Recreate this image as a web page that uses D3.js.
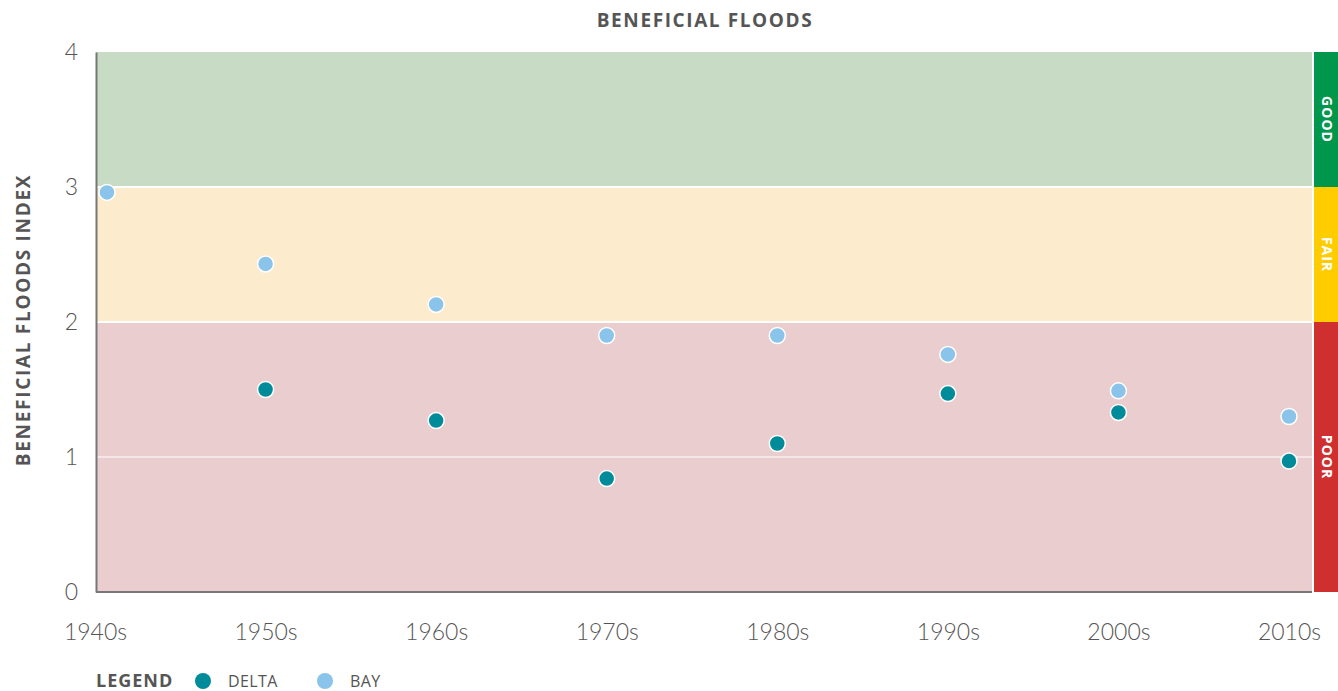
<html>
<head>
<script src="https://d3js.org/d3.v7.min.js"></script>
<style>
  body { margin: 0; background: #fff; }
  text { font-family: Lato, "Open Sans", sans-serif; }
</style>
</head>
<body>
<svg width="1338" height="691"></svg>
<script>
// data
var decades = ["1940s", "1950s", "1960s", "1970s", "1980s", "1990s", "2000s", "2010s"];
var delta = [null, 1.50, 1.27, 0.84, 1.10, 1.47, 1.33, 0.97];
var bay = [2.96, 2.43, 2.13, 1.90, 1.90, 1.76, 1.49, 1.30];
var yTicks = [0, 1, 2, 3, 4];
var bands = [
  {name: "POOR", from: 0, to: 2, fill: "#eacdce", tag: "#d02f2f"},
  {name: "FAIR", from: 2, to: 3, fill: "#fcebcc", tag: "#ffcc00"},
  {name: "GOOD", from: 3, to: 4, fill: "#c8dbc5", tag: "#00964b"}
];

var svg = d3.select("svg");
var x0 = 96, x1 = 1312, y0 = 52, y1 = 592;

var x = d3.scalePoint().domain(decades).range([95, 1289]);
var y = d3.scaleLinear().domain([0, 4]).range([y1, y0]);
var r = 8;

// background bands
svg.append("g").selectAll("rect")
  .data(bands).enter().append("rect")
  .attr("x", x0)
  .attr("y", function(d) { return y(d.to); })
  .attr("width", x1 - x0)
  .attr("height", function(d) { return y(d.from) - y(d.to); })
  .attr("fill", function(d) { return d.fill; });

// status column
var tags = svg.append("g").selectAll("g")
  .data(bands).enter().append("g");
tags.append("rect")
  .attr("x", x1 + 2)
  .attr("y", function(d) { return y(d.to); })
  .attr("width", 1338 - x1 - 2)
  .attr("height", function(d) { return y(d.from) - y(d.to); })
  .attr("fill", function(d) { return d.tag; });
tags.append("text")
  .attr("transform", function(d) {
    var cy = d.name == "POOR" ? y(1) : (y(d.from) + y(d.to)) / 2;
    return "translate(" + (x1 + 15) + "," + cy + ") rotate(90)";
  })
  .attr("text-anchor", "middle")
  .attr("dy", "0.35em")
  .attr("fill", "#fff")
  .style("font-family", "'Open Sans', sans-serif")
  .style("font-weight", "700")
  .style("font-size", "14px")
  .style("letter-spacing", "1px")
  .text(function(d) { return d.name; });

// white lines between bands and at 1
svg.append("g").selectAll("line")
  .data([1, 2, 3]).enter().append("line")
  .attr("x1", x0).attr("x2", x1)
  .attr("y1", function(d) { return y(d); })
  .attr("y2", function(d) { return y(d); })
  .attr("stroke", "#fff")
  .attr("stroke-width", function(d) { return d == 1 ? 1 : 2; });
svg.append("line")
  .attr("x1", x1 + 1).attr("x2", x1 + 1)
  .attr("y1", y0).attr("y2", y1)
  .attr("stroke", "#fff").attr("stroke-width", 2);

// axes
var yAxis = svg.append("g")
  .attr("transform", "translate(" + x0 + ",0)")
  .call(d3.axisLeft(y).tickValues(yTicks).tickSize(0).tickPadding(18).tickFormat(d3.format("d")));
yAxis.select(".domain").attr("stroke", "#777").attr("stroke-width", 2);

var xAxis = svg.append("g")
  .attr("transform", "translate(0," + y1 + ")")
  .call(d3.axisBottom(x).tickSize(0).tickPadding(32));
xAxis.select(".domain").attr("d", "M" + x0 + ",0H" + x1).attr("stroke", "#777").attr("stroke-width", 2);

svg.selectAll(".tick text")
  .attr("fill", "#555")
  .style("font-family", "Lato, sans-serif")
  .style("font-weight", "300")
  .style("font-size", "23px");

// points
function px(i) { return Math.max(x(decades[i]), x0 + r + 3); }

svg.append("g").selectAll("circle")
  .data(bay).enter().append("circle")
  .attr("cx", function(d, i) { return px(i); })
  .attr("cy", function(d) { return y(d); })
  .attr("r", r)
  .attr("fill", "#8bc4ea")
  .attr("stroke", "#fff").attr("stroke-width", 1.5);

svg.append("g").selectAll("circle")
  .data(delta.map(function(d, i) { return {v: d, i: i}; }).filter(function(d) { return d.v != null; }))
  .enter().append("circle")
  .attr("cx", function(d) { return px(d.i); })
  .attr("cy", function(d) { return y(d.v); })
  .attr("r", r)
  .attr("fill", "#008b9a")
  .attr("stroke", "#fff").attr("stroke-width", 1.5);

// title and axis label
svg.append("text")
  .attr("x", 705).attr("y", 27)
  .attr("text-anchor", "middle")
  .attr("fill", "#555")
  .style("font-family", "'Open Sans', sans-serif")
  .style("font-weight", "700")
  .style("font-size", "19px")
  .style("letter-spacing", "1.6px")
  .text("BENEFICIAL FLOODS");

svg.append("text")
  .attr("transform", "translate(30," + 320 + ") rotate(-90)")
  .attr("text-anchor", "middle")
  .attr("fill", "#555")
  .style("font-family", "'Open Sans', sans-serif")
  .style("font-weight", "700")
  .style("font-size", "19px")
  .style("letter-spacing", "1.7px")
  .text("BENEFICIAL FLOODS INDEX");

// legend
var legend = svg.append("g");
legend.append("text")
  .attr("x", 96).attr("y", 687)
  .attr("fill", "#555")
  .style("font-family", "'Open Sans', sans-serif")
  .style("font-weight", "700")
  .style("font-size", "18px")
  .style("letter-spacing", "1px")
  .text("LEGEND");
var items = [{name: "DELTA", color: "#008b9a", cx: 203}, {name: "BAY", color: "#8bc4ea", cx: 325}];
legend.selectAll("circle").data(items).enter().append("circle")
  .attr("cx", function(d) { return d.cx; })
  .attr("cy", 681)
  .attr("r", 8)
  .attr("fill", function(d) { return d.color; });
legend.selectAll(".lab").data(items).enter().append("text")
  .attr("x", function(d) { return d.cx + 25; })
  .attr("y", 687)
  .attr("fill", "#555")
  .style("font-family", "'Open Sans', sans-serif")
  .style("font-size", "16px")
  .style("letter-spacing", "0.4px")
  .text(function(d) { return d.name; });
</script>
</body>
</html>
